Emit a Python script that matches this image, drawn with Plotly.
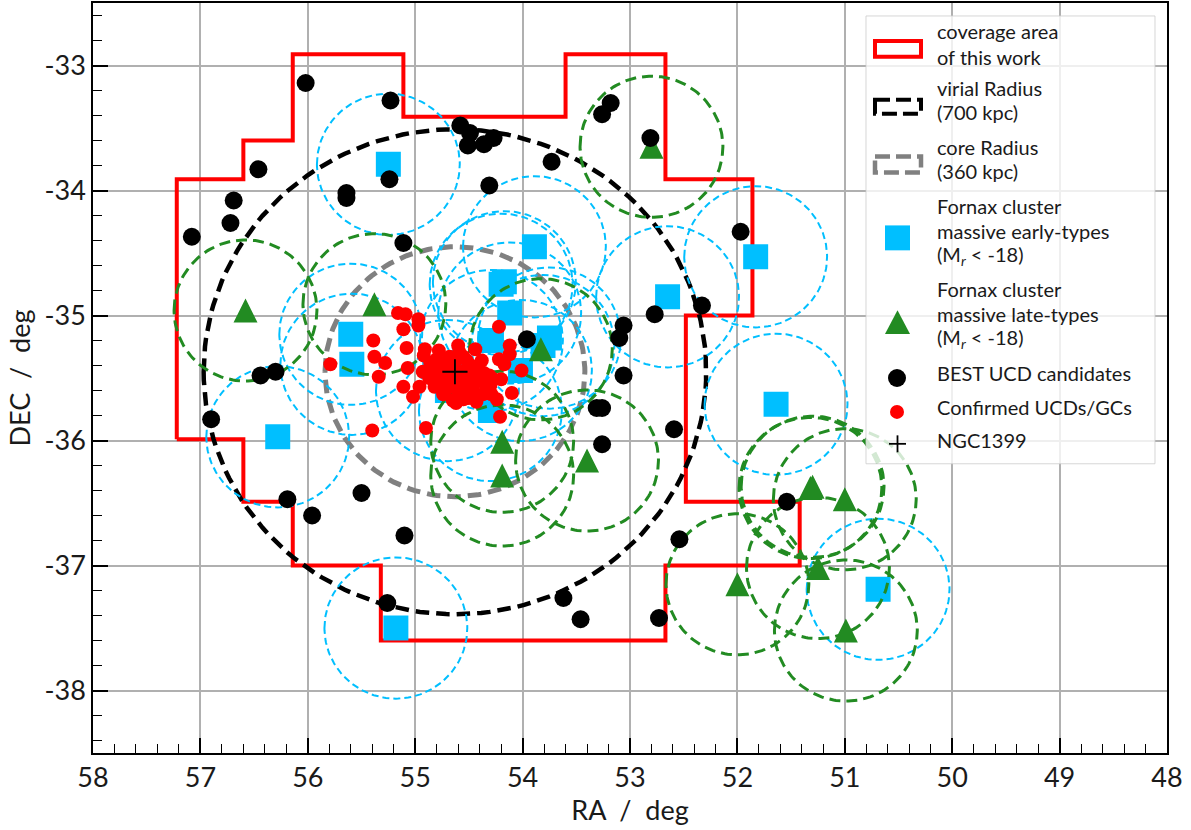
import numpy as np
import plotly.graph_objects as go

# ---- data (degrees) ----
coverage_ra = [57.22,56.6,56.6,56.14,56.14,55.32,55.32,52.67,52.67,51.42,51.42,52.48,52.48,51.86,51.86,52.67,52.67,53.6,53.6,55.11,55.11,56.14,56.14,56.6,56.6,57.22,57.22]
coverage_dec = [-35.99,-35.99,-36.49,-36.49,-37.0,-37.0,-37.6,-37.6,-37.0,-37.0,-36.49,-36.49,-35.0,-35.0,-33.91,-33.91,-32.91,-32.91,-33.41,-33.41,-32.91,-32.91,-33.6,-33.6,-33.91,-33.91,-35.99]
center_ra, center_dec = 54.63, -35.45
virial_r = (2.34, 1.94)
core_r = (1.21, 1.0)
massive_r = (0.665, 0.565)

early_ra = [55.25,53.89,54.20,54.17,54.12,51.83,52.65,55.60,55.59,54.29,53.75,53.81,54.02,54.30,54.70,56.28,51.64,55.18,50.69]
early_dec = [-33.79,-34.45,-34.75,-34.73,-34.98,-34.53,-34.85,-35.15,-35.39,-35.20,-35.18,-35.24,-35.44,-35.76,-35.60,-35.97,-35.71,-37.50,-37.19]
late_ra = [56.58,55.38,53.83,54.19,54.19,53.40,52.80,51.32,51.30,51.00,51.25,52.00,50.99]
late_dec = [-34.96,-34.91,-35.27,-36.01,-36.28,-36.16,-33.65,-36.38,-36.37,-36.47,-37.02,-37.15,-37.52]
best_ra = [56.02,55.23,54.58,54.49,54.51,54.36,54.27,53.73,54.31,55.64,55.64,55.24,56.46,56.69,56.72,57.08,55.11,51.97,52.33,52.77,53.06,53.10,53.96,53.06,56.44,56.30,56.90,53.31,53.26,53.26,52.59,55.50,56.19,55.96,55.10,51.54,52.54,55.26,53.62,53.46,52.73,53.26,53.18,52.81]
best_dec = [-33.14,-33.28,-33.48,-33.54,-33.64,-33.63,-33.58,-33.77,-33.96,-34.02,-34.06,-33.91,-33.83,-34.08,-34.26,-34.37,-34.42,-34.33,-34.92,-34.99,-35.08,-35.18,-35.19,-35.48,-35.48,-35.45,-35.83,-35.74,-35.74,-36.03,-35.91,-36.42,-36.47,-36.60,-36.76,-36.49,-36.79,-37.30,-37.26,-37.43,-37.42,-33.39,-33.30,-33.58]
conf_ra = [55.16,55.09,54.97,54.97,55.11,55.39,55.38,55.28,55.34,55.79,55.08,55.07,55.11,55.02,54.96,55.40,54.90,54.91,54.92,54.78,54.60,54.59,54.44,54.38,54.93,54.83,54.82,54.74,54.65,54.62,54.55,54.43,54.68,54.71,54.58,54.49,54.40,54.34,54.24,54.27,54.20,54.22,54.17,54.12,54.12,54.22,54.01,54.10,54.21,54.52,54.77,54.65,54.49,54.74,54.52,54.37,54.29,
           54.80,54.72,54.62,54.55,54.48,54.42,54.56,54.66,54.76,54.66,54.62,54.55,54.46,54.58,54.70,54.86,54.87,54.45,54.50,54.36,54.31,54.30,54.40]
conf_dec = [-34.98,-34.99,-35.03,-35.08,-35.11,-35.20,-35.33,-35.38,-35.49,-35.39,-35.26,-35.42,-35.57,-35.65,-35.57,-35.92,-35.90,-35.27,-35.32,-35.28,-35.24,-35.29,-35.27,-35.36,-35.45,-35.44,-35.57,-35.63,-35.68,-35.70,-35.67,-35.69,-35.33,-35.47,-35.52,-35.47,-35.52,-35.57,-35.67,-35.51,-35.51,-35.35,-35.39,-35.24,-35.31,-35.09,-35.44,-35.62,-35.81,-35.36,-35.39,-35.57,-35.60,-35.52,-35.57,-35.63,-35.63,
            -35.35,-35.38,-35.36,-35.33,-35.40,-35.43,-35.45,-35.43,-35.50,-35.50,-35.58,-35.54,-35.56,-35.62,-35.58,-35.38,-35.50,-35.62,-35.66,-35.46,-35.48,-35.56,-35.44]

ra_ticks = [58,57,56,55,54,53,52,51,50,49,48]
ra_labels = ["58","57","56","55","54","53","52","51","50","49","48"]
dec_ticks = [-33,-34,-35,-36,-37,-38]
dec_labels = ["-33","-34","-35","-36","-37","-38"]
legend_lines = [
    ("coverage area",29),("of this work",55),("virial Radius",86),("(700 kpc)",110),
    ("core Radius",145),("(360 kpc)",169),("Fornax cluster",205),("massive early-types",230),
    ("(M<sub><i>r</i></sub> &lt; -18)",254),("Fornax cluster",288),("massive late-types",313),
    ("(M<sub><i>r</i></sub> &lt; -18)",337),("BEST UCD candidates",372),("Confirmed UCDs/GCs",406),("NGC1399",439)]

FONT = "Lato"
BLUE, GREEN = "#00bfff", "#228b22"
L, R, T, B = 93, 1167, 1, 753
DEG_PER_PX_RA, DEG_PER_PX_DEC = 10/(R-L), 6/(B-T)
t = np.linspace(0, 2*np.pi, 181)

def ring(cx, cy, r, color, width, dash):
    return go.Scatter(x=cx + r[0]*np.cos(t), y=cy + r[1]*np.sin(t), mode="lines",
                      line=dict(color=color, width=width, dash=dash), hoverinfo="skip", showlegend=False)

def pts(x, y, sym, size, color, **kw):
    return go.Scatter(x=x, y=y, mode="markers", showlegend=False,
                      marker=dict(symbol=sym, size=size, color=color, line=dict(width=0), **kw))

def triangles(xs, ys, half_px, color):
    # matplotlib-style triangle (as wide as it is tall), placed on the axes by each galaxy position
    hx, hy = half_px*DEG_PER_PX_RA, half_px*DEG_PER_PX_DEC
    vx, vy = [], []
    for a, d in zip(xs, ys):
        vx += [a+hx, a-hx, a, a+hx, None]
        vy += [d-hy, d-hy, d+hy, d-hy, None]
    return go.Scatter(x=vx, y=vy, mode="lines", fill="toself", fillcolor=color,
                      line=dict(width=0, color=color), showlegend=False)

fig = go.Figure()
fig.add_trace(go.Scatter(x=coverage_ra, y=coverage_dec, mode="lines", line=dict(color="red", width=4), showlegend=False))
fig.add_trace(ring(center_ra, center_dec, virial_r, "black", 4.5, "13.5px,7px"))
fig.add_trace(ring(center_ra, center_dec, core_r, "gray", 5, "13.5px,7px"))
for a, d in zip(early_ra, early_dec):
    fig.add_trace(ring(a, d, massive_r, BLUE, 2, "7px,4px"))
fig.add_trace(pts(early_ra, early_dec, "square", 25, BLUE))
for a, d in zip(late_ra, late_dec):
    fig.add_trace(ring(a, d, massive_r, GREEN, 3, "11px,6px"))
fig.add_trace(triangles(late_ra, late_dec, 12, GREEN))
fig.add_trace(pts(best_ra, best_dec, "circle", 18, "black"))
fig.add_trace(pts(conf_ra, conf_dec, "circle", 14, "red"))
fig.add_trace(go.Scatter(x=[center_ra], y=[center_dec], mode="markers", showlegend=False,
                         marker=dict(symbol="cross-thin", size=18, color="black", line=dict(width=1.8, color="black"))))

def px(x): return (x-L)/(R-L)
def py(y): return (B-y)/(B-T)
shapes, annos = [], []
def rect(x0, y0, x1, y1, **kw):
    shapes.append(dict(type="rect", xref="paper", yref="paper", x0=px(x0), x1=px(x1), y0=py(y0), y1=py(y1), layer="above", **kw))
rect(866, 14, 1155, 463, fillcolor="rgba(255,255,255,0.8)", line=dict(color="rgba(204,204,204,0.8)", width=1))
rect(875, 39, 921, 55, line=dict(color="red", width=4))
rect(875, 98, 921, 112, line=dict(color="black", width=4, dash="15px,6px"))
rect(875, 155, 921, 171, line=dict(color="gray", width=4.5, dash="15px,6px"))
rect(885, 224, 910, 249, fillcolor=BLUE, line=dict(width=0))
shapes.append(dict(type="path", xref="paper", yref="paper", layer="above", fillcolor=GREEN, line=dict(width=0),
                   path=f"M {px(885)},{py(333)} L {px(910)},{py(333)} L {px(897.5)},{py(309)} Z"))
shapes.append(dict(type="circle", xref="paper", yref="paper", layer="above", fillcolor="black", line=dict(width=0),
                   x0=px(888), x1=px(906), y0=py(386), y1=py(368)))
shapes.append(dict(type="circle", xref="paper", yref="paper", layer="above", fillcolor="red", line=dict(width=0),
                   x0=px(890), x1=px(904), y0=py(418), y1=py(404)))
shapes.append(dict(type="line", xref="paper", yref="paper", layer="above", line=dict(color="black", width=1.8),
                   x0=px(889), x1=px(906), y0=py(443), y1=py(443)))
shapes.append(dict(type="line", xref="paper", yref="paper", layer="above", line=dict(color="black", width=1.8),
                   x0=px(897.5), x1=px(897.5), y0=py(434.5), y1=py(451.5)))
for txt, y in legend_lines:
    annos.append(dict(text=txt, xref="paper", yref="paper", x=px(935), y=py(y), xanchor="left", yanchor="middle",
                      showarrow=False, font=dict(family=FONT, size=20, color="#1a1a1a")))

axis = dict(showline=True, linecolor="black", linewidth=1.6, mirror=True, ticks="inside", ticklen=15, tickwidth=1.6,
            tickcolor="black", showgrid=True, gridcolor="#b0b0b0", gridwidth=1.5, zeroline=False,
            tickfont=dict(family=FONT, size=27, color="#1a1a1a"))
fig.update_layout(
    width=1191, height=830, margin=dict(l=L, r=1191-R, t=T, b=830-B), paper_bgcolor="white", plot_bgcolor="white",
    showlegend=False, shapes=shapes, annotations=annos,
    xaxis=dict(axis, range=[58,48], tickvals=ra_ticks, ticktext=ra_labels,
               minor=dict(dtick=0.2, ticks="inside", ticklen=9, tickwidth=1.1, tickcolor="black", showgrid=False),
               title=dict(text="RA&nbsp;&nbsp;/&nbsp;&nbsp;deg", font=dict(family=FONT, size=27, color="#1a1a1a"), standoff=8)),
    yaxis=dict(axis, range=[-38.5,-32.5], tickvals=dec_ticks, ticktext=dec_labels,
               minor=dict(dtick=0.2, ticks="inside", ticklen=9, tickwidth=1.1, tickcolor="black", showgrid=False),
               title=dict(text="DEC&nbsp;&nbsp;/&nbsp;&nbsp;deg", font=dict(family=FONT, size=27, color="#1a1a1a"), standoff=6)),
)
fig.write_html("out.html", post_script="document.body.style.margin='0';", config={"displayModeBar": False})
